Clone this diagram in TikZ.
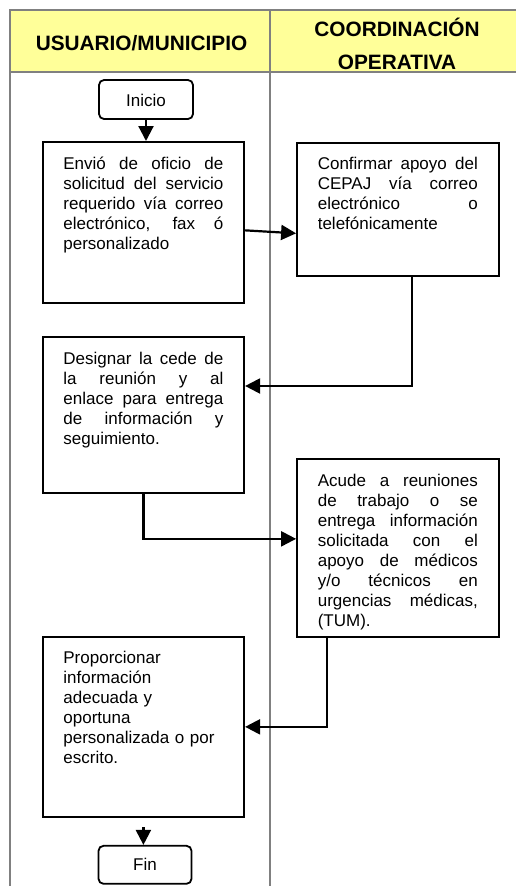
\documentclass[tikz,border=0pt]{standalone}
\usepackage{fontspec}
\setmainfont{Liberation Sans}
\usepackage{xcolor}
\usetikzlibrary{arrows.meta}

\definecolor{laneyellow}{RGB}{255,255,153}
\hbadness=10000
\hyphenpenalty=10000

\begin{document}
\begin{tikzpicture}[
	x=1pt, y=-1pt,
	stepbox/.style={draw, line width=2pt, text width=160pt, inner xsep=20.7pt, inner ysep=0pt, text height=27pt, align=justify, anchor=north, font=\fontsize{17}{20}\selectfont},
	endbox/.style={draw, line width=1.8pt, rounded corners=5pt, minimum width=94pt, minimum height=39pt, font=\fontsize{17}{20}\selectfont},
	lanetitle/.style={align=center, font=\bfseries\fontsize{20.8}{33}\selectfont},
	lane/.style={draw=gray, line width=2pt},
	edge/.style={draw, line width=2.2pt, -{Triangle[length=15pt,width=15pt]}}
	]
	\useasboundingbox (0,0) rectangle (516,886);
	
	% Lanes
	\fill[laneyellow] (10,10) rectangle (516,72);
	\path[lane] (10,886) -- (10,10) -- (516,10);
	\path[lane] (10,72) -- (516,72);
	\path[lane] (270,10) -- (270,886);
	\node[lanetitle] (userTitle) at (141.5,43) {USUARIO/MUNICIPIO};
	\node[lanetitle] (coordTitle) at (397,44) {COORDINACIÓN\\OPERATIVA};
	
	% Define nodes
	\node[endbox, text height=14pt] (inicio) at (146,99.5) {Inicio};
	\node[stepbox, text depth=133.7pt] (b1) at (143.4,141) {Envió de oficio de\linebreak solicitud del servicio\linebreak requerido vía correo\linebreak electrónico, fax ó\linebreak personalizado};
	\node[stepbox, text depth=106.3pt] (b2) at (397.8,141.7) {Confirmar apoyo del\linebreak CEPAJ vía correo\linebreak electrónico o\linebreak telefónicamente};
	\node[stepbox, text depth=129pt] (b3) at (143.4,336) {Designar la cede de\linebreak la reunión y al\linebreak enlace para entrega\linebreak de información y\linebreak seguimiento.};
	\node[stepbox, text depth=150.7pt] (b4) at (397.8,458) {Acude a reuniones\linebreak de trabajo o se\linebreak entrega información\linebreak solicitada con el\linebreak apoyo de médicos\linebreak y/o técnicos en\linebreak urgencias médicas,\linebreak (TUM).};
	\node[stepbox, text depth=153.3pt, align=left] (b5) at (143.4,635.7) {Proporcionar\\ información\\ adecuada y\\ oportuna\\ personalizada o por\\ escrito.};
	\node[endbox, minimum width=93pt, minimum height=38pt] (fin) at (145,864.8) {Fin};
	
	% Draw edges
	\path[edge] (inicio.south) -- (inicio.south |- b1.north);
	\path[edge] ([yshift=-8pt]b1.east) -- ([yshift=-24pt]b2.west);
	\path[edge] ([xshift=14pt]b2.south) |- ([yshift=29pt]b3.east);
	\path[edge] (b3.south) |- ([yshift=9pt]b4.west);
	\path[edge] ([xshift=-71pt]b4.south) |- (b5.east);
	\path[edge, shorten <=9pt] (b5.south) -- (b5.south |- fin.north);
	
\end{tikzpicture}
\end{document}
